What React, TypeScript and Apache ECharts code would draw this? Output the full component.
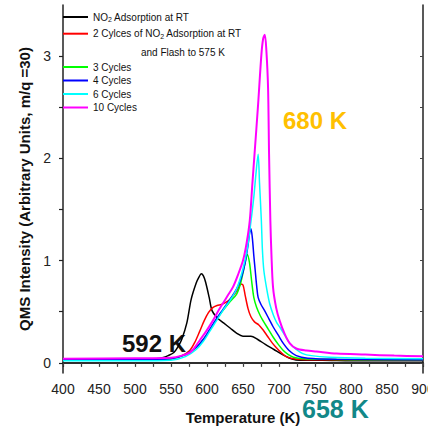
import React, { useEffect, useRef } from "react";
import * as echarts from "echarts";

const seriesNames = [
  "NO2 Adsorption at RT",
  "2 Cylces of NO2 Adsorption at RT",
  "3 Cycles",
  "4 Cycles",
  "6 Cycles",
  "10 Cycles",
];
const seriesColors = ["#000000", "#ff0000", "#00ff00", "#0000ff", "#00ffff", "#ff00ff"];

const blackT = [400, 450, 500, 530, 538, 546, 554, 560, 565, 572, 578, 585, 589, 592, 595, 598, 603, 607, 614, 623, 632, 641, 650, 661, 670, 681, 693, 705, 717, 730, 760, 800, 850, 900];
const blackV = [0.03, 0.03, 0.035, 0.04, 0.05, 0.07, 0.1, 0.16, 0.23, 0.39, 0.62, 0.78, 0.84, 0.87, 0.85, 0.79, 0.64, 0.51, 0.44, 0.39, 0.34, 0.29, 0.26, 0.26, 0.23, 0.18, 0.13, 0.08, 0.04, 0.025, 0.025, 0.02, 0.02, 0.02];

const redT = [400, 500, 550, 565, 576, 583, 590, 596, 602, 608, 614, 620, 626, 632, 638, 643, 647, 650, 653, 657, 661, 666, 672, 678, 684, 690, 696, 703, 710, 720, 740, 800, 900];
const redV = [0.03, 0.03, 0.04, 0.07, 0.12, 0.2, 0.31, 0.41, 0.49, 0.54, 0.56, 0.57, 0.59, 0.62, 0.67, 0.72, 0.77, 0.76, 0.66, 0.53, 0.45, 0.4, 0.37, 0.32, 0.26, 0.2, 0.15, 0.1, 0.06, 0.04, 0.03, 0.03, 0.03];

const greenT = [400, 500, 550, 570, 585, 595, 604, 613, 622, 631, 641, 646, 650, 653, 656, 659, 662, 665, 669, 674, 678, 685, 692, 699, 706, 713, 720, 735, 760, 820, 900];
const greenV = [0.03, 0.03, 0.04, 0.08, 0.15, 0.23, 0.32, 0.42, 0.51, 0.59, 0.67, 0.76, 0.88, 0.98, 1.06, 0.98, 0.8, 0.64, 0.54, 0.46, 0.41, 0.33, 0.25, 0.18, 0.12, 0.08, 0.055, 0.04, 0.035, 0.03, 0.03];

const blueT = [400, 500, 550, 570, 585, 595, 604, 613, 622, 631, 641, 648, 653, 657, 659, 661, 663, 665, 667, 669, 671, 675, 680, 686, 692, 699, 706, 714, 724, 740, 780, 900];
const blueV = [0.03, 0.03, 0.04, 0.08, 0.15, 0.23, 0.33, 0.43, 0.52, 0.61, 0.72, 0.84, 0.98, 1.15, 1.26, 1.31, 1.22, 1.05, 0.9, 0.75, 0.64, 0.57, 0.51, 0.43, 0.35, 0.27, 0.19, 0.12, 0.07, 0.045, 0.035, 0.03];

const cyanT = [400, 500, 550, 570, 585, 595, 604, 613, 622, 631, 641, 650, 656, 661, 665, 668, 671, 673, 675.5, 677, 679, 683, 687, 692, 697, 701, 708, 715, 724, 733, 745, 770, 820, 900];
const cyanV = [0.02, 0.02, 0.025, 0.06, 0.13, 0.21, 0.31, 0.41, 0.51, 0.6, 0.72, 0.92, 1.12, 1.38, 1.62, 1.85, 2.04, 1.75, 1.39, 1.1, 0.9, 0.72, 0.58, 0.47, 0.39, 0.35, 0.27, 0.19, 0.13, 0.09, 0.07, 0.055, 0.045, 0.04];

const magentaT = [400, 500, 550, 565, 576, 583, 590, 599, 608, 615, 622, 629, 636, 643, 650, 655, 659.4, 663, 666, 671, 675.6, 678, 680.3, 682.5, 684.8, 686.2, 688, 689.5, 691.7, 696, 701, 708, 715, 724, 738, 752, 780, 820, 860, 900];
const magentaV = [0.04, 0.045, 0.05, 0.07, 0.1, 0.15, 0.22, 0.31, 0.41, 0.5, 0.58, 0.66, 0.74, 0.86, 1.0, 1.17, 1.39, 1.75, 2.04, 2.53, 3.02, 3.17, 3.21, 3.05, 2.69, 2.04, 1.39, 1.06, 0.74, 0.54, 0.41, 0.28, 0.19, 0.14, 0.12, 0.11, 0.09, 0.08, 0.07, 0.065];

const temps = [blackT, redT, greenT, blueT, cyanT, magentaT];
const values = [blackV, redV, greenV, blueV, cyanV, magentaV];

const xTicks = [400, 450, 500, 550, 600, 650, 700, 750, 800, 850, 900];
const yLabels = [0, 1, 2, 3];
const yTicks = [0, 0.5, 1, 1.5, 2, 2.5, 3];

const FONT = "Liberation Sans, Arial, sans-serif";

export default function App() {
  const ref = useRef<HTMLDivElement>(null);
  useEffect(() => {
    if (!ref.current) return;
    const chart = echarts.init(ref.current, null, { renderer: "svg" });
    const fmt = (name: string) => name.replace("NO2", "NO{sub|2}");
    const rich = {
      sub: { fontSize: 7, lineHeight: 7, verticalAlign: "bottom" as const, fontFamily: FONT, color: "#111" },
    };
    const axisLineStyle = { color: "#222", width: 1.5 };
    chart.setOption({
      animation: false,
      backgroundColor: "#fff",
      grid: { left: 63, right: 5, top: 5, bottom: 58, containLabel: false, outerBoundsMode: "none" },
      xAxis: [
        {
          type: "value",
          min: 400,
          max: 900,
          interval: 50,
          position: "bottom",
          axisLine: { show: true, lineStyle: axisLineStyle },
          axisTick: { show: true, inside: false, length: 4, lineStyle: { color: "#222", width: 1.2 } },
          minorTick: { show: true, splitNumber: 2, length: 4, lineStyle: { color: "#222", width: 1.2 } },
          axisLabel: {
            fontSize: 14,
            fontFamily: FONT,
            color: "#222",
            margin: 9,
            hideOverlap: false,
            formatter: (v: number) => (xTicks.includes(v) ? String(v) : ""),
          },
          splitLine: { show: false },
          name: "Temperature (K)",
          nameLocation: "middle",
          nameGap: 37,
          nameTextStyle: { fontSize: 15, fontWeight: "bold", fontFamily: FONT, color: "#111" },
        },
        {
          type: "value",
          min: 400,
          max: 900,
          interval: 50,
          position: "top",
          axisLine: { show: true, lineStyle: axisLineStyle },
          axisTick: { show: true, inside: true, length: 3, lineStyle: { color: "#444", width: 1 } },
          minorTick: { show: true, splitNumber: 2, length: 3, lineStyle: { color: "#444", width: 1 } },
          axisLabel: { show: false },
          splitLine: { show: false },
        },
      ],
      yAxis: [
        {
          type: "value",
          min: -0.1,
          max: 3.5,
          position: "left",
          axisLine: { show: true, lineStyle: axisLineStyle },
          axisTick: { show: true, inside: false, length: 4, customValues: yTicks, lineStyle: { color: "#222", width: 1.2 } },
          axisLabel: { fontSize: 14, fontFamily: FONT, color: "#222", margin: 12, customValues: yLabels },
          splitLine: { show: false },
          name: "QMS Intensity (Arbitrary Units, m/q =30)",
          nameLocation: "middle",
          nameGap: 28,
          nameTextStyle: { fontSize: 15, fontWeight: "bold", fontFamily: FONT, color: "#111" },
        },
        {
          type: "value",
          min: -0.1,
          max: 3.5,
          position: "right",
          axisLine: { show: true, lineStyle: axisLineStyle },
          axisTick: { show: true, inside: true, length: 3, customValues: yTicks, lineStyle: { color: "#444", width: 1 } },
          axisLabel: { show: false },
          splitLine: { show: false },
        },
      ],
      legend: [
        {
          data: seriesNames.slice(0, 2),
          orient: "vertical",
          left: 63,
          top: 11,
          padding: 0,
          itemGap: 4.7,
          itemWidth: 25,
          itemHeight: 2,
          icon: "rect",
          formatter: fmt,
          selectedMode: false,
          textStyle: { fontSize: 10, lineHeight: 12, fontFamily: FONT, color: "#111", rich },
        },
        {
          data: seriesNames.slice(2),
          orient: "vertical",
          left: 63,
          top: 61,
          padding: 0,
          itemGap: 1.5,
          itemWidth: 25,
          itemHeight: 2,
          icon: "rect",
          selectedMode: false,
          textStyle: { fontSize: 10, lineHeight: 12, fontFamily: FONT, color: "#111" },
        },
      ],
      graphic: [
        {
          type: "text",
          left: 141,
          top: 47,
          style: { text: "and Flash to 575 K", fontSize: 10, fontFamily: FONT, fill: "#111" },
        },
        {
          type: "text",
          left: 122,
          top: 331,
          style: { text: "592 K", fontSize: 24, fontWeight: "bold", fontFamily: FONT, fill: "#111" },
        },
        {
          type: "text",
          left: 283,
          top: 108,
          style: { text: "680 K", fontSize: 24, fontWeight: "bold", fontFamily: FONT, fill: "#ffc000" },
        },
        {
          type: "text",
          left: 302,
          top: 396,
          style: { text: "658 K", fontSize: 25, fontWeight: "bold", fontFamily: FONT, fill: "#128888" },
        },
      ],
      series: seriesNames.map((name, i) => ({
        name,
        type: "line",
        xAxisIndex: 0,
        yAxisIndex: 0,
        showSymbol: false,
        symbol: "none",
        smooth: 0.3,
        color: seriesColors[i],
        lineStyle: { color: seriesColors[i], width: i === 5 ? 2 : 1.5 },
        data: temps[i].map((t, j) => [t, values[i][j]]),
      })),
    });
    return () => chart.dispose();
  }, []);
  return (
    <div
      ref={ref}
      style={{ position: "fixed", left: 0, top: 0, width: 428, height: 431, background: "#fff" }}
    />
  );
}
